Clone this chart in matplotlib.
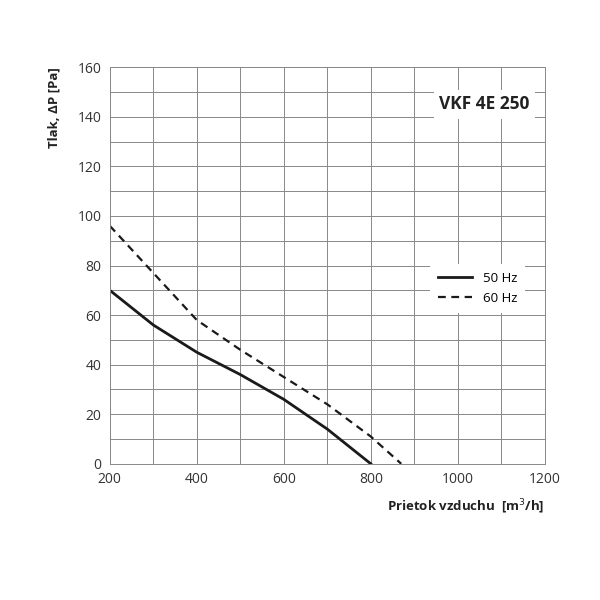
import matplotlib

matplotlib.use("Agg")
import matplotlib.pyplot as plt
from matplotlib.ticker import MultipleLocator

flow_50 = [200, 300, 400, 500, 600, 700, 800]
pressure_50 = [70, 56, 45, 36, 26, 14, 0]
flow_60 = [200, 300, 400, 500, 600, 700, 800, 870]
pressure_60 = [96, 77, 58, 46, 35, 24, 11, 0]

plt.rcParams["font.family"] = ["Open Sans", "DejaVu Sans"]

fig = plt.figure(figsize=(6, 6), dpi=100)
ax = fig.add_axes([0.183, 0.227, 0.725, 0.661])

ax.plot(flow_50, pressure_50, color="#1a1a1a", lw=2, label="50 Hz")
ax.plot(flow_60, pressure_60, color="#1a1a1a", lw=1.6, ls=(0, (3.5, 2.5)), label="60 Hz")

ax.set_xlim(200, 1200)
ax.set_ylim(0, 160)
ax.xaxis.set_major_locator(MultipleLocator(200))
ax.xaxis.set_minor_locator(MultipleLocator(100))
ax.yaxis.set_major_locator(MultipleLocator(20))
ax.yaxis.set_minor_locator(MultipleLocator(10))
ax.grid(True, which="both", color="#888888", lw=0.7)
ax.set_axisbelow(True)
ax.tick_params(which="both", length=0, labelsize=10, colors="#333333", pad=6)
for s in ax.spines.values():
    s.set_color("#888888")
    s.set_linewidth(0.7)

ax.text(1165, 145, "VKF 4E 250", fontsize=12.5, fontweight="bold", ha="right",
        va="center", color="#222222",
        bbox=dict(facecolor="white", edgecolor="none", pad=4))

leg = ax.legend(loc="upper right", bbox_to_anchor=(0.97, 0.52), frameon=True,
                fontsize=9.5, handlelength=2.6, borderpad=0.6)
leg.get_frame().set_edgecolor("none")
leg.get_frame().set_facecolor("white")
leg.get_frame().set_alpha(1)

fig.text(0.09, 0.888, "Tlak, ΔP [Pa]", rotation=90, ha="center", va="top",
         fontsize=9.5, fontweight="bold", color="#222222")
fig.text(0.908, 0.155, "Prietok vzduchu  [m$^3$/h]", ha="right", va="center",
         fontsize=9.5, fontweight="bold", color="#222222")

fig.savefig("out.png", dpi=100)
